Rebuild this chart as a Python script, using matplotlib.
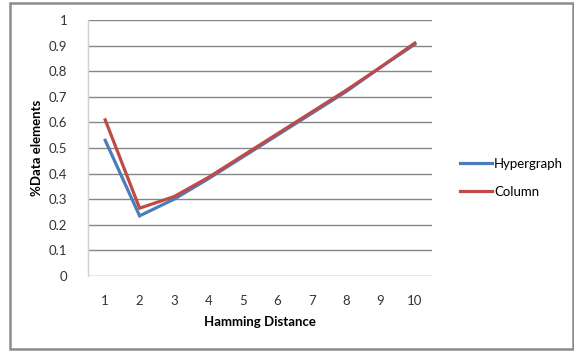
import matplotlib
matplotlib.use("Agg")
import matplotlib.pyplot as plt
from matplotlib.patches import Rectangle

distances = [1, 2, 3, 4, 5, 6, 7, 8, 9, 10]
hypergraph = [0.53, 0.235, 0.30, 0.38, 0.465, 0.55, 0.635, 0.72, 0.815, 0.905]
column = [0.61, 0.265, 0.31, 0.385, 0.47, 0.555, 0.64, 0.725, 0.815, 0.91]
y_ticks = [0, 0.1, 0.2, 0.3, 0.4, 0.5, 0.6, 0.7, 0.8, 0.9, 1]
y_tick_labels = ["0", "0.1", "0.2", "0.3", "0.4", "0.5", "0.6", "0.7", "0.8", "0.9", "1"]

plt.rcParams['font.family'] = ['Lato', 'DejaVu Sans']

W, H = 574, 351
fig = plt.figure(figsize=(W / 100, H / 100), dpi=100)
ax = fig.add_axes([88 / W, 1 - 276 / H, (432 - 88) / W, (276 - 20) / H])

ax.plot(distances, hypergraph, color="#4A7EBB", lw=2.3, label="Hypergraph", solid_joinstyle="miter")
ax.plot(distances, column, color="#BE4B48", lw=2.3, label="Column", solid_joinstyle="miter")

ax.set_xlim(0.5, 10.5)
ax.set_ylim(0, 1)
ax.set_xticks(distances)
ax.set_xticklabels([str(d) for d in distances])
ax.set_yticks(y_ticks)
ax.set_yticklabels(y_tick_labels)
ax.tick_params(axis="both", length=0, labelsize=9.5, labelcolor="#333333")
ax.tick_params(axis="y", pad=15)
ax.tick_params(axis="x", pad=14)
ax.yaxis.grid(True, color="#868686", lw=1)
ax.set_axisbelow(True)
for s in ["top", "right", "bottom"]:
    ax.spines[s].set_visible(False)
ax.spines["left"].set_color("#d0d0d0")
ax.spines["left"].set_linewidth(1)

ax.set_xlabel("Hamming Distance", fontsize=9.5, fontweight="bold", labelpad=6)
ax.set_ylabel("%Data elements", fontsize=9.5, fontweight="bold", labelpad=4)

leg = fig.legend(loc="upper left", bbox_to_anchor=(448 / W, 1 - 146 / H), frameon=False,
                 fontsize=9.5, handlelength=2.4, handletextpad=0.2, labelspacing=1.2)

fig.patches.append(Rectangle((10 / W, 1 - 349 / H), (573 - 10) / W, (349 - 3) / H,
                             transform=fig.transFigure, fill=False, edgecolor="#8c8c8c", lw=1.8))

fig.savefig("out.png", dpi=100)
